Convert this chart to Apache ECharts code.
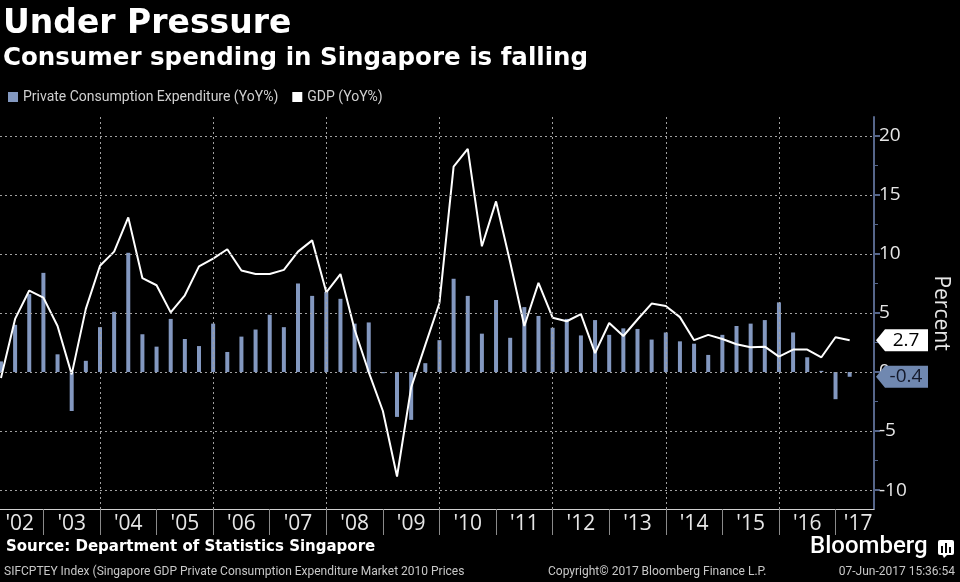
<!DOCTYPE html>
<html><head><meta charset="utf-8">
<script src="https://cdn.jsdelivr.net/npm/echarts@6/dist/echarts.min.js"></script>
<style>html,body{margin:0;padding:0;background:#000;}#c{width:960px;height:582px;}</style>
</head><body><div id="c"></div>
<script>
// ---- data ----
const quarters = [
 '2002Q1','2002Q2','2002Q3','2002Q4','2003Q1','2003Q2','2003Q3','2003Q4',
 '2004Q1','2004Q2','2004Q3','2004Q4','2005Q1','2005Q2','2005Q3','2005Q4',
 '2006Q1','2006Q2','2006Q3','2006Q4','2007Q1','2007Q2','2007Q3','2007Q4',
 '2008Q1','2008Q2','2008Q3','2008Q4','2009Q1','2009Q2','2009Q3','2009Q4',
 '2010Q1','2010Q2','2010Q3','2010Q4','2011Q1','2011Q2','2011Q3','2011Q4',
 '2012Q1','2012Q2','2012Q3','2012Q4','2013Q1','2013Q2','2013Q3','2013Q4',
 '2014Q1','2014Q2','2014Q3','2014Q4','2015Q1','2015Q2','2015Q3','2015Q4',
 '2016Q1','2016Q2','2016Q3','2016Q4','2017Q1'];
const pce = [
 0.9, 4.0, 6.6, 8.4,   1.5, -3.3, 0.95, 3.8,
 5.1, 10.1, 3.2, 2.15, 4.5, 2.8, 2.2, 4.1,
 1.7, 3.0, 3.6, 4.85,  3.8, 7.5, 6.45, 6.8,
 6.2, 4.1, 4.2, -0.1,  -3.8, -4.05, 0.75, 2.7,
 7.9, 6.45, 3.25, 6.1, 2.9, 5.5, 4.75, 3.75,
 4.5, 3.1, 4.4, 3.15,  3.7, 3.65, 2.75, 3.35,
 2.6, 2.4, 1.45, 3.15, 3.9, 4.1, 4.4, 5.9,
 3.35, 1.25, 0.1, -2.3, -0.4];
const gdp = [
 -0.5, 4.5, 6.9, 6.3,  3.9, -0.2, 5.35, 9.0,
 10.2, 13.1, 7.95, 7.35, 5.05, 6.5, 8.95, 9.6,
 10.4, 8.6, 8.3, 8.3,  8.65, 10.2, 11.15, 6.75,
 8.3, 3.6, 0.0, -3.3,  -8.85, -1.3, 2.3, 5.85,
 17.4, 18.9, 10.65, 14.45, 9.3, 3.9, 7.55, 4.6,
 4.3, 4.9, 1.6, 4.15,  3.05, 4.45, 5.8, 5.6,
 4.65, 2.7, 3.15, 2.8, 2.35, 2.1, 2.15, 1.3,
 1.9, 1.9, 1.25, 2.95, 2.7];
const years = [2002,2003,2004,2005,2006,2007,2008,2009,2010,2011,2012,2013,2014,2015,2016,2017];
const yTicks = [-10,-5,0,5,10,15,20];
const yMinorTicks = [-7.5,-2.5,2.5,7.5,12.5,17.5];
const gridYears = [2004,2006,2008,2010,2012,2014,2016];

// ---- layout constants ----
const X_MIN = 2002.233, X_MAX = 2017.68;
const Y_MIN = -11.6, Y_MAX = 21.6;

function qToT(q){ return +q.slice(0,4) + (+q.slice(5))/4; }
const barData = quarters.map((q,i)=>[qToT(q), pce[i]]);
const lineData = quarters.map((q,i)=>[qToT(q), gdp[i]]);
const yearLabelPos = years.map(y=>Math.min(Math.max(y+0.5, X_MIN+0.35), X_MAX-0.28));
const yearBounds = years.slice(1);
const lastG = gdp[gdp.length-1], lastP = pce[pce.length-1];

const TAG = 'path://M0,11 L9,0 L52,0 L52,22 L9,22 Z';
const axisColor = '#56668a';
const txt = '#e6e6e6';
const gridStyle = {color: '#a0a0a0', type: [2,3], width: 1, opacity: 1};

const chart = echarts.init(document.getElementById('c'), null, {renderer:'canvas'});
chart.setOption({
  backgroundColor: '#000',
  animation: false,
  grid: {left: 0, right: 86, top: 117, bottom: 73, containLabel: false},
  legend: {
    left: 3, top: 85, itemWidth: 10, itemHeight: 10, itemGap: 14, icon: 'rect',
    textStyle: {color: '#d0d0d0', fontSize: 14, fontFamily: 'Roboto'},
    data: ['Private Consumption Expenditure (YoY%)', 'GDP (YoY%)']
  },
  xAxis: [{
    type: 'value', min: X_MIN, max: X_MAX, position: 'bottom',
    axisLine: {show: true, onZero: false, lineStyle: {color: '#cfcfcf', width: 1}},
    axisTick: {show: true, customValues: yearBounds, length: 26, lineStyle: {color: '#8a8a8a'}},
    axisLabel: {customValues: yearLabelPos, color: txt, fontSize: 21, margin: 5,
      fontFamily: 'Open Sans',
      formatter: v => "'" + String(Math.floor(v)).slice(2)},
    splitLine: {show: false}
  }],
  yAxis: [{
    type: 'value', min: Y_MIN, max: Y_MAX, position: 'right',
    axisLine: {show: true, onZero: false, lineStyle: {color: axisColor, width: 2}},
    axisTick: {show: true, customValues: yTicks, length: 6, lineStyle: {color: axisColor, width: 2}},
    axisLabel: {customValues: yTicks, color: txt, fontSize: 19, margin: 5, fontFamily: 'Open Sans'},
    splitLine: {show: false},
    name: 'Percent', nameLocation: 'middle', nameRotate: -90, nameGap: 56,
    nameTextStyle: {color: txt, fontSize: 21, fontFamily: 'Open Sans'}
  }, {
    type: 'value', min: Y_MIN, max: Y_MAX, position: 'right',
    axisLine: {show: false, onZero: false}, axisLabel: {show: false}, splitLine: {show: false},
    axisTick: {show: true, customValues: yMinorTicks, length: 4, lineStyle: {color: axisColor, width: 1}}
  }],
  series: [{
    name: 'Private Consumption Expenditure (YoY%)', type: 'bar', data: barData,
    barWidth: 4, itemStyle: {color: '#8398c0'}, z: 2,
    markLine: {
      silent: true, symbol: ['none','none'], label: {show: false}, lineStyle: gridStyle,
      animation: false, precision: 3,
      data: yTicks.map(v=>({yAxis: v, lineStyle: gridStyle})).concat(gridYears.map(x=>({xAxis: x, lineStyle: gridStyle})))
    },
    markPoint: {
      symbol: TAG, symbolSize: [52,22], symbolOffset: [28,0], symbolKeepAspect: false,
      itemStyle: {color: '#7088b0'},
      label: {show: true, formatter: '{c}', color: '#14192a', fontSize: 19, offset: [4,0], fontFamily: 'Open Sans'},
      data: [{coord: [X_MAX, lastP], value: lastP.toFixed(1)}]
    }
  }, {
    name: 'GDP (YoY%)', type: 'line', data: lineData, showSymbol: false, symbol: 'none',
    lineStyle: {color: '#ffffff', width: 2}, itemStyle: {color: '#ffffff'}, z: 3,
    markPoint: {
      symbol: TAG, symbolSize: [52,22], symbolOffset: [28,0], symbolKeepAspect: false,
      itemStyle: {color: '#ffffff'},
      label: {show: true, formatter: '{c}', color: '#000', fontSize: 19, offset: [4,0], fontFamily: 'Open Sans'},
      data: [{coord: [X_MAX, lastG], value: lastG.toFixed(1)}]
    }
  }],
  graphic: [
    {type: 'text', left: 3, top: 8, style: {text: 'Under Pressure', fill: '#fff', font: 'bold 33px "DejaVu Sans"'}},
    {type: 'text', left: 3, top: 46, style: {text: 'Consumer spending in Singapore is falling', fill: '#fff', font: 'bold 24.5px "DejaVu Sans"'}},
    {type: 'text', left: 6, top: 540, style: {text: 'Source: Department of Statistics Singapore', fill: '#fff', font: 'bold 15px "DejaVu Sans"'}},
    {type: 'text', left: 4, top: 566, style: {text: 'SIFCPTEY Index (Singapore GDP Private Consumption Expenditure Market 2010 Prices', fill: '#c8c8c8', font: '12px Roboto'}},
    {type: 'text', left: 548, top: 566, style: {text: 'Copyright\u00a9 2017 Bloomberg Finance L.P.', fill: '#c8c8c8', font: '12px Roboto'}},
    {type: 'text', right: 5, top: 566, style: {text: '07-Jun-2017 15:36:54', fill: '#c8c8c8', font: '12px Roboto'}},
    {type: 'text', left: 810, top: 535, style: {text: 'Bloomberg', fill: '#fff', font: '500 24px Roboto'}},
    {type: 'group', left: 938, top: 540, children: [
      {type: 'rect', shape: {x: 0, y: 0, width: 16, height: 15, r: 2}, style: {fill: '#fff'}},
      {type: 'polygon', shape: {points: [[4,14],[10,14],[6,18]]}, style: {fill: '#fff'}},
      {type: 'rect', shape: {x: 3, y: 6, width: 2, height: 7}, style: {fill: '#000'}},
      {type: 'rect', shape: {x: 7, y: 3, width: 2, height: 10}, style: {fill: '#000'}},
      {type: 'rect', shape: {x: 11, y: 7, width: 2, height: 6}, style: {fill: '#000'}}
    ]}
  ]
});
</script></body></html>
